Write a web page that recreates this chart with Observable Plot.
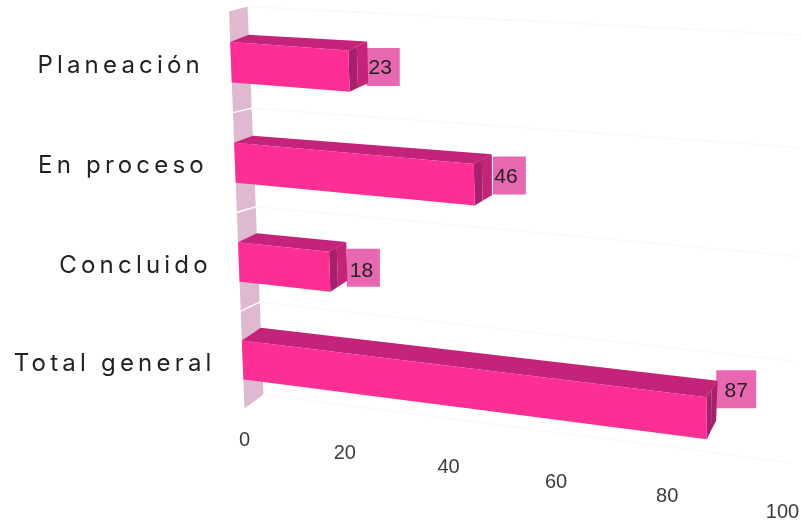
<!DOCTYPE html>
<html>
<head>
<meta charset="utf-8">
<script src="https://cdn.jsdelivr.net/npm/d3@7"></script>
<script src="https://cdn.jsdelivr.net/npm/@observablehq/plot@0.6"></script>
<style>
html,body{margin:0;padding:0;background:#fff}
svg{display:block;overflow:hidden;filter:blur(0.5px)}
.cat text{letter-spacing:4.2px}
</style>
</head>
<body>
<div id="chart"></div>
<script>
const categories = ["Planeación", "En proceso", "Concluido", "Total general"];
const values = [23, 46, 18, 87];
const tickValues = [0, 20, 40, 60, 80, 100];

// perspective camera: the value/row plane at the front and at the back of the bars
function squareToQuad(p00, p10, p11, p01) {
  const dx1 = p10[0] - p11[0], dx2 = p01[0] - p11[0], dx3 = p00[0] - p10[0] + p11[0] - p01[0];
  const dy1 = p10[1] - p11[1], dy2 = p01[1] - p11[1], dy3 = p00[1] - p10[1] + p11[1] - p01[1];
  const den = dx1 * dy2 - dx2 * dy1;
  const g = (dx3 * dy2 - dx2 * dy3) / den, h = (dx1 * dy3 - dx3 * dy1) / den;
  const a = p10[0] - p00[0] + g * p10[0], b = p01[0] - p00[0] + h * p01[0], c = p00[0];
  const d = p10[1] - p00[1] + g * p10[1], e = p01[1] - p00[1] + h * p01[1], f = p00[1];
  return (s, t) => { const q = g * s + h * t + 1; return [(a * s + b * t + c) / q, (d * s + e * t + f) / q]; };
}
const frontPlane = squareToQuad([228.5, 11], [780, 48], [782, 480], [244, 408]);
const backPlane = squareToQuad([247, 6], [810, 35], [789, 462], [263, 394]);
const depthLevels = [0, 1, 0.45];       // layer index -> depth between the two planes
const LAYER = 10;
const camera = d3.geoTransform({
  point(v, lat) {
    const layer = Math.floor(lat / LAYER), w = lat - layer * LAYER, z = depthLevels[layer];
    const f = frontPlane(v / 100, w / 4), b = backPlane(v / 100, w / 4);
    this.stream.point(f[0] + (b[0] - f[0]) * z, f[1] + (b[1] - f[1]) * z);
  }
});
const at = (v, w, layer = 0) => [v, w + layer * LAYER];
const poly = (...pts) => ({type: "Polygon", coordinates: [[...pts, pts[0]]]});
const line = (...pts) => ({type: "LineString", coordinates: pts});

const rise = 0.025; // the back of a bar sits slightly above the wall's back plane
const rows = categories.map((name, i) => ({name, value: values[i], i, top: i + 0.3, bottom: i + 0.7, mid: i + 0.5}));
const seps = d3.range(categories.length + 1);

const frontFace = rows.map(r => poly(at(0, r.top), at(r.value, r.top), at(r.value, r.bottom), at(0, r.bottom)));
const topFace = rows.map(r => poly(at(0, r.top), at(r.value, r.top), at(r.value, r.top - rise, 1), at(0, r.top - rise, 1)));
const endNear = rows.map(r => poly(at(r.value, r.top), at(r.value, r.top - rise / 2, 2), at(r.value, r.bottom - rise / 2, 2), at(r.value, r.bottom)));
const endFar = rows.map(r => poly(at(r.value, r.top - rise / 2, 2), at(r.value, r.top - rise, 1), at(r.value, r.bottom - rise, 1), at(r.value, r.bottom - rise / 2, 2)));

const badgeLayout = [
  {dx: 15.5, dy: 2, w: 33, tx: -3, ty: 0},
  {dx: 17.5, dy: -2, w: 33, tx: -3.5, ty: 0.5},
  {dx: 16.5, dy: 4, w: 33, tx: -2, ty: 2},
  {dx: 19.5, dy: -14, w: 40, tx: 0, ty: 1}
];
const box = (w, h) => ({draw(ctx) { ctx.rect(-w / 2, -h / 2, w, h); }});

const chart = Plot.plot({
  width: 801,
  height: 523,
  margin: 0,
  projection: camera,
  marks: [
    // wall
    Plot.geo([poly(at(0, 0), at(0, 0, 1), at(0, 4, 1), at(0, 4))], {fill: "#deb9d0", stroke: "none"}),
    // grid on the back plane and separators across the wall
    Plot.geo(seps.map(w => line(at(0, w, 1), at(100, w, 1))), {stroke: "#f9f9f9", strokeWidth: 1.5}),
    Plot.geo(seps.slice(1, -1).map(w => line(at(0, w), at(0, w, 1))), {stroke: "#ffffff", strokeWidth: 1.5}),
    // value badges, behind the bars
    ...rows.map((r, k) => Plot.dot([r], {
      x: d => d.value, y: d => d.mid + LAYER,
      dx: badgeLayout[k].dx, dy: badgeLayout[k].dy,
      symbol: box(badgeLayout[k].w, 38), r: 10, fill: "#e767b1", stroke: "none"
    })),
    // bars
    Plot.geo(topFace, {fill: "#c4237a", stroke: "none"}),
    Plot.geo(endFar, {fill: (d, i) => i === 3 ? "#a81f6b" : "#c4237a", stroke: "none"}),
    Plot.geo(endNear, {fill: "#a81f6b", stroke: "none"}),
    Plot.geo(frontFace, {fill: "#fd2e94", stroke: "none"}),
    // value labels
    ...rows.map((r, k) => Plot.text([r], {
      x: d => d.value, y: d => d.mid + LAYER, text: d => String(d.value),
      dx: badgeLayout[k].dx + badgeLayout[k].tx, dy: badgeLayout[k].dy + badgeLayout[k].ty,
      fontSize: 21, fontFamily: "Liberation Sans", fill: "#222"
    })),
    // category labels
    Plot.text(rows, {
      x: () => 0, y: d => d.mid, text: "name", textAnchor: "end", dx: -27, dy: 3,
      fontSize: 24, fontFamily: "Inter", fill: "#222", className: "cat"
    }),
    // value axis labels
    Plot.text(tickValues, {
      x: d => d, y: () => 4, text: d => String(d), dy: 31,
      fontSize: 20, fontFamily: "Liberation Sans", fill: "#3c3c3c"
    })
  ]
});
document.getElementById("chart").append(chart);
</script>
</body>
</html>
